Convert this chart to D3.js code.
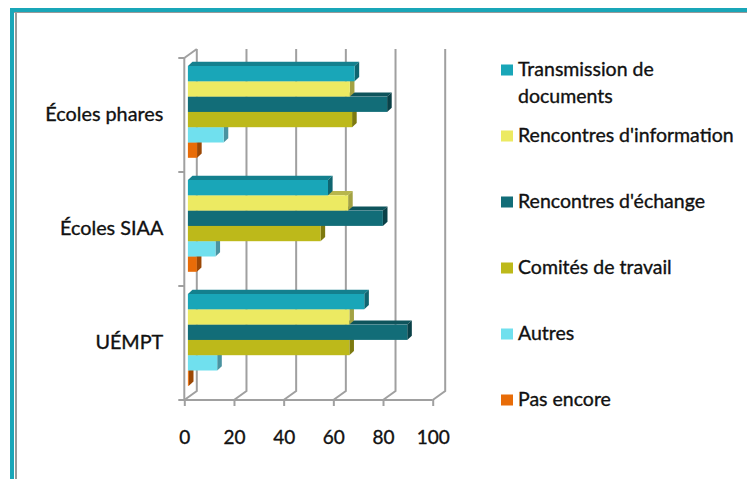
<!DOCTYPE html>
<html>
<head>
<meta charset="utf-8">
<script src="https://cdn.jsdelivr.net/npm/d3@7"></script>
<style>
    html, body { margin: 0; padding: 0; background: #fff; overflow: hidden; }
    text { font-family: Lato, "Open Sans", sans-serif; fill: #111; stroke: #111; stroke-width: 0.35px; }
</style>
</head>
<body>
<script>
const categories = ["Écoles phares", "Écoles SIAA", "UÉMPT"];
const seriesNames = ["Transmission de documents", "Rencontres d'information", "Rencontres d'échange", "Comités de travail", "Autres", "Pas encore"];
const transmission = [67.1, 56.4, 71];
const information = [65.2, 64.5, 65];
const echange = [80.2, 78.5, 88.3];
const comites = [66.1, 53.4, 65];
const autres = [14.4, 11.1, 11.8];
const pasEncore = [3.7, 3.6, 0.4];
const xTicks = [0, 20, 40, 60, 80, 100];

const seriesValues = [transmission, information, echange, comites, autres, pasEncore];
// front, top, side
const colors = [
    ["#19a6b8", "#14808e", "#0f6570"],
    ["#ecea62", "#b8b64c", "#a3a243"],
    ["#126d78", "#0e545c", "#0a4148"],
    ["#bdb91a", "#928f14", "#7d7a10"],
    ["#70e0ee", "#569fa9", "#4a93a0"],
    ["#e86c08", "#b35306", "#9c4805"]
];
const legendLines = [["Transmission de", "documents"], ["Rencontres d'information"], ["Rencontres d'échange"], ["Comités de travail"], ["Autres"], ["Pas encore"]];
const legendY = [69, 135, 201, 267, 333, 399];

const width = 747, height = 479;
const svg = d3.select("body").append("svg").attr("width", width).attr("height", height);

//Frame
svg.append("rect").attr("x", 10).attr("y", 8).attr("width", width - 10).attr("height", 4).attr("fill", "#19a6b8");
svg.append("rect").attr("x", 10).attr("y", 8).attr("width", 4).attr("height", height - 8).attr("fill", "#19a6b8");
svg.append("rect").attr("x", 14).attr("y", 12).attr("width", width - 14).attr("height", 1).attr("fill", "#999");
svg.append("rect").attr("x", 15).attr("y", 12).attr("width", 2).attr("height", height - 12).attr("fill", "#999");

//Scales
const x = d3.scaleLinear().domain([0, 100]).range([184.3, 432.7]);
const y = d3.scaleBand().domain(categories).range([58, 400]);
const inner = d3.scaleBand().domain(seriesNames).range([8, 99.8]);
const wallX = 12.5, wallY = -9;   // depth of the walls
const inset = 3.6, depthX = 4.6, depthY = -4.2;   // bars inside the walls

//Walls
const grid = svg.append("g").attr("fill", "none").attr("stroke", "#a0a0a0").attr("stroke-width", 2);
grid.selectAll("path").data(xTicks).enter().append("path")
    .attr("d", d => `M${x(d)},400L${x(d) + wallX},${400 + wallY}V${58 + wallY}`);
grid.append("line").attr("x1", x(0)).attr("x2", x(0)).attr("y1", 58).attr("y2", 400);
grid.append("line").attr("x1", x(0)).attr("x2", x(100)).attr("y1", 400).attr("y2", 400);
grid.selectAll(".wall").data(categories.slice(0, 1)).enter().append("path").attr("class", "wall")
    .attr("d", `M${x(0)},58L${x(0) + wallX},${58 + wallY}`);
grid.selectAll(".ytick").data([58, 172, 286, 400]).enter().append("line").attr("class", "ytick")
    .attr("x1", x(0) - 6).attr("x2", x(0)).attr("y1", d => d).attr("y2", d => d);

//Bars, lowest series first so the upper ones cover their top faces
const cats = svg.append("g").selectAll("g").data(categories).enter().append("g")
    .attr("transform", d => "translate(0," + y(d) + ")");
cats.each(function (cat, ci) {
    const g = d3.select(this);
    for (let si = seriesNames.length - 1; si >= 0; si--) {
        const x0 = x(0) + inset, x1 = x(seriesValues[si][ci]) + inset;
        const t = inner(seriesNames[si]), h = inner.bandwidth();
        g.append("polygon").attr("fill", colors[si][1])
            .attr("points", [[x0, t], [x0 + depthX, t + depthY], [x1 + depthX, t + depthY], [x1, t]].join(" "));
        g.append("polygon").attr("fill", colors[si][2])
            .attr("points", [[x1, t], [x1 + depthX, t + depthY], [x1 + depthX, t + h + depthY], [x1, t + h]].join(" "));
        g.append("rect").attr("x", x0).attr("y", t).attr("width", x1 - x0).attr("height", h).attr("fill", colors[si][0]);
    }
});

//Axes
const xAxis = d3.axisBottom(x).tickValues(xTicks).tickSize(6).tickPadding(25);
const xg = svg.append("g").attr("transform", "translate(0,400)").call(xAxis);
xg.select(".domain").remove();
xg.selectAll("line").attr("stroke", "#a0a0a0").attr("stroke-width", 2);
xg.selectAll("text").attr("font-size", 19).attr("fill", "#111");

const yAxis = d3.axisLeft(y).tickSize(0).tickPadding(21);
const yg = svg.append("g").attr("transform", "translate(184.3,0)").call(yAxis);
yg.select(".domain").remove();
yg.selectAll("text").attr("font-size", 19.8).attr("fill", "#111");

//Legend
const legend = svg.append("g").selectAll("g").data(seriesNames).enter().append("g")
    .attr("transform", (d, i) => "translate(501," + legendY[i] + ")");
legend.append("rect").attr("y", -4.5).attr("width", 12).attr("height", 11).attr("fill", (d, i) => colors[i][0]);
legend.each(function (d, i) {
    d3.select(this).selectAll("text").data(legendLines[i]).enter().append("text")
        .attr("x", 17).attr("y", (l, k) => k * 27).attr("dy", "0.35em")
        .attr("font-size", 19.5).text(l => l);
});
</script>
</body>
</html>
